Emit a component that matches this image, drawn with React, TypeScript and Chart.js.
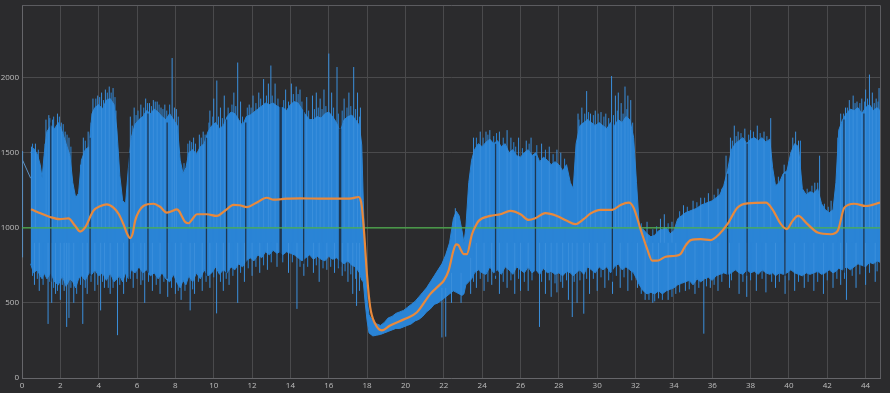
import React, { useEffect, useRef } from "react";
import { Chart, registerables } from "chart.js";

Chart.register(...registerables);

// ---- axis settings ----
const X_MAX = 44.75;
const Y_MAX = 2483;
const xTickValues = [0, 2, 4, 6, 8, 10, 12, 14, 16, 18, 20, 22, 24, 26, 28, 30, 32, 34, 36, 38, 40, 42, 44];
const yTickValues = [0, 500, 1000, 1500, 2000];
const REFERENCE_LEVEL = 1000;

// ---- raw signal: dense band (core envelope) ----
const bandX = [
  0.45, 0.6, 0.8, 0.95, 1.05, 1.15, 1.3, 1.5, 1.7, 1.9, 2.1, 2.3, 2.5, 2.65, 2.8, 2.95, 3.1, 3.3, 3.5, 3.65,
  3.8, 4.0, 4.2, 4.4, 4.6, 4.8, 4.95, 5.1, 5.25, 5.4, 5.55, 5.7, 5.9, 6.1, 6.3, 6.5, 6.7, 6.9, 7.1, 7.3,
  7.5, 7.7, 7.9, 8.1, 8.25, 8.4, 8.55, 8.7, 8.9, 9.1, 9.3, 9.5, 9.7, 9.9, 10.1, 10.3, 10.5, 10.7, 10.9, 11.1,
  11.3, 11.5, 11.7, 11.9, 12.1, 12.3, 12.5, 12.7, 12.9, 13.1, 13.3, 13.45, 13.6, 13.8, 14.0, 14.2, 14.4, 14.6, 14.8, 15.0,
  15.2, 15.4, 15.6, 15.8, 16.0, 16.2, 16.4, 16.6, 16.8, 17.0, 17.2, 17.4, 17.6, 17.72, 17.8, 17.9, 18.0, 18.1, 18.3, 18.5,
  18.7, 18.9, 19.1, 19.3, 19.5, 19.7, 19.9, 20.1, 20.3, 20.5, 20.7, 20.9, 21.1, 21.3, 21.5, 21.7, 21.9, 22.1, 22.3, 22.5,
  22.65, 22.8, 22.95, 23.05, 23.15, 23.3, 23.45, 23.6, 23.8, 24.0, 24.2, 24.4, 24.6, 24.8, 25.0, 25.2, 25.4, 25.6, 25.8, 26.0,
  26.2, 26.4, 26.6, 26.8, 27.0, 27.2, 27.4, 27.6, 27.8, 28.0, 28.2, 28.4, 28.6, 28.75, 28.9, 29.1, 29.3, 29.5, 29.7, 29.9,
  30.1, 30.3, 30.5, 30.7, 30.9, 31.1, 31.3, 31.5, 31.7, 31.9, 32.05, 32.2, 32.4, 32.6, 32.8, 33.0, 33.2, 33.4, 33.6, 33.8,
  34.0, 34.2, 34.4, 34.6, 34.8, 35.0, 35.2, 35.4, 35.6, 35.8, 36.0, 36.2, 36.4, 36.6, 36.8, 37.0, 37.2, 37.4, 37.6, 37.8,
  38.0, 38.2, 38.4, 38.6, 38.8, 39.0, 39.15, 39.3, 39.5, 39.7, 39.9, 40.1, 40.3, 40.5, 40.7, 40.9, 41.1, 41.3, 41.5, 41.7,
  41.9, 42.1, 42.3, 42.45, 42.6, 42.8, 43.0, 43.2, 43.4, 43.6, 43.8, 44.0, 44.2, 44.4, 44.6, 44.75,
];
const bandTop = [
  1500, 1530, 1490, 1420, 1330, 1480, 1640, 1680, 1660, 1700, 1640, 1560, 1480, 1300, 1200, 1230, 1450, 1520, 1540, 1760,
  1800, 1820, 1790, 1850, 1860, 1820, 1650, 1350, 1180, 1160, 1400, 1600, 1690, 1720, 1740, 1780, 1760, 1790, 1770, 1740,
  1720, 1760, 1720, 1680, 1450, 1360, 1400, 1500, 1520, 1490, 1540, 1560, 1640, 1680, 1700, 1660, 1680, 1740, 1770, 1760,
  1720, 1680, 1740, 1750, 1770, 1790, 1810, 1830, 1820, 1830, 1810, 1800, 1800, 1780, 1820, 1840, 1830, 1790, 1750, 1720,
  1720, 1740, 1730, 1760, 1770, 1740, 1700, 1640, 1720, 1740, 1750, 1720, 1680, 1550, 1180, 800, 520, 420, 380, 360,
  350, 370, 400, 410, 430, 440, 450, 470, 490, 510, 540, 570, 600, 640, 680, 720, 760, 820, 900, 1060,
  1110, 1080, 980, 900, 1000, 1300, 1450, 1520, 1560, 1540, 1570, 1590, 1560, 1580, 1540, 1560, 1500, 1520, 1480, 1470,
  1500, 1520, 1480, 1500, 1440, 1470, 1450, 1420, 1440, 1420, 1380, 1420, 1300, 1260, 1560, 1680, 1700, 1720, 1700, 1680,
  1700, 1680, 1660, 1700, 1680, 1720, 1700, 1740, 1720, 1600, 1300, 1000, 990, 960, 940, 950, 980, 990, 1000, 960,
  980, 1060, 1080, 1100, 1110, 1120, 1130, 1150, 1160, 1170, 1180, 1200, 1220, 1280, 1380, 1520, 1560, 1580, 1600, 1560,
  1590, 1600, 1580, 1600, 1570, 1590, 1400, 1280, 1300, 1360, 1380, 1500, 1560, 1540, 1260, 1220, 1240, 1230, 1260, 1160,
  1120, 1100, 1120, 1300, 1650, 1720, 1760, 1790, 1780, 1800, 1760, 1800, 1820, 1780, 1800, 1780,
];
const bandBottom = [
  760, 700, 720, 680, 660, 700, 660, 700, 640, 620, 680, 610, 660, 640, 600, 660, 680, 650, 700, 690,
  720, 680, 700, 650, 700, 640, 660, 680, 640, 700, 660, 720, 700, 740, 700, 720, 680, 700, 660, 700,
  660, 640, 690, 630, 600, 650, 620, 680, 640, 700, 660, 720, 680, 700, 740, 690, 720, 700, 740, 720,
  760, 740, 780, 800, 780, 820, 800, 840, 820, 850, 830, 840, 820, 840, 830, 820, 800, 780, 800, 820,
  790, 810, 790, 780, 810, 790, 800, 780, 760, 780, 750, 740, 700, 650, 640, 500, 380, 300, 280, 285,
  290, 300, 310, 320, 330, 330, 340, 350, 360, 380, 390, 410, 440, 460, 490, 500, 520, 540, 560, 580,
  570, 560, 550, 560, 620, 640, 660, 700, 720, 700, 690, 740, 700, 720, 690, 740, 720, 690, 740, 720,
  700, 740, 700, 720, 690, 730, 700, 710, 690, 700, 680, 710, 700, 680, 700, 720, 690, 740, 720, 700,
  740, 720, 740, 700, 740, 760, 720, 740, 720, 700, 660, 620, 580, 560, 570, 560, 580, 560, 580, 590,
  600, 620, 630, 640, 650, 620, 660, 640, 660, 670, 650, 680, 690, 700, 690, 700, 720, 700, 690, 720,
  700, 710, 690, 720, 700, 690, 700, 680, 700, 690, 700, 720, 700, 690, 680, 700, 690, 700, 710, 690,
  700, 720, 700, 710, 730, 720, 740, 720, 740, 760, 750, 740, 770, 760, 780, 770,
];

// ---- raw signal: isolated upward spikes ----
const upX = [
  0.5, 0.7, 1.25, 1.4, 1.6, 1.85, 2.05, 2.25, 2.45, 3.2, 3.45, 3.7, 3.95, 4.15, 4.35, 4.55, 4.75, 4.9, 5.65, 5.85,
  6.2, 6.45, 6.65, 6.85, 7.05, 7.25, 7.45, 7.83, 7.95, 8.05, 8.75, 8.95, 9.25, 9.45, 9.8, 10.0, 10.16, 10.35, 10.55, 11.05,
  11.25, 11.4, 11.85, 12.05, 12.35, 12.6, 12.85, 12.98, 13.2, 13.75, 14.05, 14.3, 14.5, 14.85, 15.15, 15.35, 15.55, 15.75, 16.0, 16.15,
  16.43, 16.8, 17.05, 17.3, 17.5, 17.65, 22.6, 23.55, 23.9, 24.2, 24.4, 24.9, 25.3, 25.5, 25.9, 26.3, 26.55, 27.1, 27.5, 27.9,
  28.1, 29.0, 29.2, 29.45, 29.65, 29.9, 30.2, 30.45, 30.75, 30.95, 31.1, 31.25, 31.45, 31.6, 31.75, 32.6, 33.3, 33.5, 33.9, 34.5,
  35.0, 35.4, 35.8, 36.3, 36.72, 36.95, 37.15, 37.35, 37.7, 38.0, 38.35, 38.7, 39.05, 39.75, 40.2, 40.35, 40.5, 41.35, 41.6, 42.2,
  42.7, 42.95, 43.15, 43.35, 43.55, 43.8, 44.0, 44.2, 44.35, 44.55, 44.7,
];
const upPeak = [
  1540, 1560, 1720, 1750, 1720, 1760, 1700, 1640, 1600, 1600, 1640, 1860, 1880, 1900, 1920, 1940, 1930, 1780, 1740, 1800,
  1820, 1860, 1830, 1850, 1840, 1800, 1820, 2130, 1800, 1790, 1580, 1600, 1620, 1640, 1780, 1860, 1980, 1800, 1880, 1900,
  2100, 1840, 1820, 1880, 1900, 1990, 1960, 2080, 1960, 1920, 1960, 1940, 1920, 1870, 1880, 1900, 1860, 1920, 2160, 1900,
  2070, 1860, 1900, 2070, 1900, 1800, 1130, 1600, 1640, 1640, 1650, 1640, 1650, 1600, 1600, 1580, 1600, 1560, 1540, 1520,
  1500, 1760, 1800, 1910, 1760, 1780, 1770, 1760, 2010, 1880, 1900, 1830, 1940, 1880, 1850, 1040, 1060, 1090, 1040, 1150,
  1180, 1200, 1230, 1260, 1480, 1600, 1680, 1640, 1660, 1650, 1680, 1640, 1730, 1420, 1600, 1640, 1580, 1300, 1480, 1180,
  1760, 1800, 1850, 1880, 1840, 1860, 1920, 2020, 1900, 1860, 1930,
];
const upBase = [
  1000, 1000, 1000, 1000, 1000, 1000, 1000, 1000, 1000, 1000, 1000, 1000, 1000, 1000, 1000, 1000, 1000, 1000, 1000, 1000,
  1000, 1000, 1000, 1000, 1000, 1000, 1000, 1000, 1000, 1000, 1000, 1000, 1000, 1000, 1000, 1000, 1000, 1000, 1000, 1000,
  1000, 1000, 1000, 1000, 1000, 1000, 1000, 1000, 1000, 1000, 1000, 1000, 1000, 1000, 1000, 1000, 1000, 1000, 1000, 1000,
  1000, 1000, 1000, 1000, 1000, 1000, 900, 1000, 1000, 1000, 1000, 1000, 1000, 1000, 1000, 1000, 1000, 1000, 1000, 1000,
  1000, 1000, 1000, 1000, 1000, 1000, 1000, 1000, 1000, 1000, 1000, 1000, 1000, 1000, 1000, 900, 900, 900, 900, 1000,
  1000, 1000, 1000, 1000, 1000, 1000, 1000, 1000, 1000, 1000, 1000, 1000, 1000, 1000, 1000, 1000, 1000, 1000, 1000, 1000,
  1000, 1000, 1000, 1000, 1000, 1000, 1000, 1000, 1000, 1000, 1000,
];

// ---- raw signal: isolated downward spikes ----
const downX = [
  0.65, 0.9, 1.36, 1.55, 1.75, 2.0, 2.2, 2.33, 2.45, 2.7, 3.17, 3.4, 3.8, 4.1, 4.3, 4.6, 4.98, 5.3, 5.8, 6.2,
  6.4, 6.8, 7.2, 7.6, 8.0, 8.3, 8.77, 9.0, 9.4, 9.8, 10.15, 10.5, 10.8, 11.25, 11.6, 12.0, 12.4, 12.8, 13.3, 13.9,
  14.34, 14.7, 15.2, 15.5, 15.9, 16.3, 16.7, 17.0, 17.25, 17.45, 17.6, 21.9, 22.1, 22.4, 22.9, 23.4, 23.7, 24.1, 24.5, 24.9,
  25.3, 25.7, 26.0, 26.4, 26.99, 27.3, 27.6, 27.9, 28.2, 28.5, 28.7, 28.95, 29.3, 29.6, 30.0, 30.4, 30.8, 31.2, 31.6, 32.1,
  32.5, 32.9, 33.2, 33.7, 34.1, 34.6, 35.1, 35.56, 35.9, 36.3, 36.9, 37.4, 37.8, 38.3, 38.8, 39.3, 39.8, 40.3, 40.8, 41.3,
  41.8, 42.3, 42.7, 43.0, 43.5, 44.0, 44.5,
];
const downTrough = [
  620, 580, 360, 500, 560, 520, 580, 340, 400, 500, 360, 560, 580, 450, 600, 560, 285, 560, 600, 620,
  500, 580, 560, 540, 560, 520, 450, 560, 580, 600, 430, 580, 620, 500, 640, 680, 700, 720, 740, 700,
  460, 680, 700, 640, 720, 700, 680, 640, 560, 480, 580, 270, 275, 500, 500, 560, 600, 580, 620, 560,
  600, 560, 580, 580, 340, 560, 540, 570, 600, 520, 406, 500, 428, 560, 580, 600, 560, 600, 580, 600,
  520, 500, 530, 520, 560, 580, 560, 295, 600, 580, 600, 560, 540, 580, 570, 600, 560, 580, 600, 580,
  560, 600, 620, 520, 600, 620, 640,
];
const downBase = [
  900, 900, 900, 900, 900, 900, 900, 900, 900, 900, 900, 900, 900, 900, 900, 900, 900, 900, 900, 900,
  900, 900, 900, 900, 900, 900, 900, 900, 900, 900, 900, 900, 900, 900, 900, 900, 900, 900, 900, 900,
  900, 900, 900, 900, 900, 900, 900, 900, 900, 900, 900, 600, 600, 700, 700, 800, 900, 900, 900, 900,
  900, 900, 900, 900, 900, 900, 900, 900, 900, 900, 900, 900, 900, 900, 900, 900, 900, 900, 900, 900,
  900, 900, 900, 900, 900, 900, 900, 900, 900, 900, 900, 900, 900, 900, 900, 900, 900, 900, 900, 900,
  900, 900, 900, 900, 900, 900, 900,
];

// ---- raw signal: short fringe excursions along the band edges ----
const fringeUpX = [
  0.55, 0.85, 1.2, 1.45, 1.65, 1.95, 2.15, 2.35, 2.55, 3.05, 3.3, 3.6, 3.85, 4.05, 4.25, 4.45, 4.65, 4.85, 5.75, 5.95,
  6.05, 6.35, 6.55, 6.75, 6.95, 7.15, 7.35, 7.55, 7.7, 8.15, 8.45, 8.65, 8.85, 9.05, 9.35, 9.55, 9.75, 9.95, 10.25, 10.45,
  10.75, 10.95, 11.15, 11.5, 11.75, 11.95, 12.2, 12.45, 12.75, 13.05, 13.35, 13.65, 13.9, 14.15, 14.4, 14.6, 14.95, 15.25, 15.45, 15.65,
  15.85, 16.25, 16.5, 16.7, 16.95, 17.15, 17.4, 17.6, 23.7, 24.05, 24.3, 24.6, 24.75, 25.1, 25.65, 25.75, 26.1, 26.45, 26.85, 27.3,
  27.7, 28.3, 29.05, 29.35, 29.55, 29.8, 30.05, 30.35, 30.6, 30.85, 31.05, 31.35, 31.55, 31.85, 32.3, 32.9, 33.1, 33.7, 34.3, 34.7,
  35.2, 35.6, 36.1, 36.5, 37.05, 37.25, 37.5, 37.9, 38.15, 38.5, 38.85, 39.45, 40.0, 40.6, 40.95, 41.2, 41.5, 41.85, 42.05, 42.55,
  42.85, 43.05, 43.45, 43.7, 43.95, 44.1, 44.45, 44.65,
];
const fringeUpPeak = [
  1560, 1520, 1560, 1730, 1740, 1740, 1690, 1620, 1540, 1420, 1580, 1700, 1860, 1870, 1850, 1900, 1900, 1870, 1680, 1750,
  1780, 1800, 1830, 1810, 1840, 1820, 1790, 1780, 1820, 1740, 1430, 1560, 1570, 1560, 1600, 1620, 1700, 1740, 1740, 1730,
  1800, 1820, 1810, 1740, 1800, 1800, 1830, 1860, 1880, 1880, 1860, 1850, 1840, 1890, 1890, 1840, 1780, 1790, 1800, 1790,
  1810, 1800, 1760, 1780, 1800, 1810, 1790, 1740, 1600, 1600, 1620, 1610, 1630, 1600, 1570, 1540, 1530, 1560, 1550, 1520,
  1490, 1460, 1720, 1760, 1770, 1750, 1760, 1740, 1730, 1750, 1780, 1760, 1790, 1700, 1030, 990, 1010, 1030, 1110, 1140,
  1170, 1200, 1220, 1260, 1580, 1610, 1630, 1620, 1640, 1630, 1610, 1340, 1440, 1580, 1260, 1280, 1300, 1160, 1140, 1600,
  1760, 1800, 1830, 1830, 1840, 1860, 1830, 1840,
];
const fringeDownX = [
  0.55, 0.8, 1.1, 1.45, 1.65, 1.85, 2.1, 2.55, 2.85, 3.05, 3.3, 3.6, 3.95, 4.2, 4.5, 4.75, 5.1, 5.45, 5.65, 6.0,
  6.3, 6.6, 7.0, 7.4, 7.8, 8.15, 8.5, 8.9, 9.2, 9.6, 10.0, 10.35, 10.65, 11.0, 11.4, 11.8, 12.2, 12.6, 13.0, 13.6,
  14.1, 14.5, 14.9, 15.35, 15.7, 16.1, 16.5, 16.85, 17.15, 17.4, 23.55, 23.9, 24.3, 24.7, 25.1, 25.5, 25.9, 26.2, 26.6, 27.1,
  27.5, 27.8, 28.1, 28.4, 28.8, 29.1, 29.45, 29.8, 30.2, 30.6, 31.0, 31.4, 31.8, 32.3, 32.7, 33.0, 33.4, 33.9, 34.3, 34.8,
  35.3, 35.7, 36.1, 36.5, 37.0, 37.6, 38.0, 38.6, 39.1, 39.5, 40.0, 40.5, 41.0, 41.5, 42.0, 42.5, 42.9, 43.3, 43.7, 44.2,
  44.6,
];
const fringeDownTrough = [
  680, 660, 620, 640, 600, 580, 620, 600, 560, 620, 600, 640, 620, 640, 600, 600, 620, 640, 660, 660,
  650, 640, 620, 640, 600, 580, 580, 590, 640, 640, 670, 640, 660, 680, 700, 730, 740, 750, 770, 770,
  770, 740, 740, 750, 730, 740, 730, 710, 690, 660, 640, 660, 640, 660, 640, 650, 660, 640, 650, 640,
  650, 630, 640, 650, 640, 650, 660, 660, 670, 650, 680, 670, 650, 560, 520, 510, 520, 540, 570, 590,
  600, 610, 620, 640, 650, 640, 650, 660, 640, 640, 650, 640, 640, 640, 650, 660, 660, 680, 690, 700,
  710,
];
const FRINGE_BASE = 900;

// ---- dropouts (dark vertical gaps in the raw signal) ----
const gapX = [1.5, 3.55, 5.59, 6.57, 7.57, 9.62, 10.67, 11.67, 13.46, 13.52, 14.69, 16.56, 16.62, 24.7, 26.78, 30.79, 36.8, 37.82, 39.79, 42.87, 43.91];
const gapLow = [640, 680, 640, 700, 660, 680, 700, 760, 800, 800, 760, 740, 740, 680, 680, 640, 680, 680, 680, 700, 720];
const gapHigh = [1700, 1600, 1500, 1760, 1700, 1600, 1720, 1700, 1820, 1820, 1780, 1660, 1660, 1560, 1480, 1700, 1360, 1560, 1360, 1720, 1760];

// ---- lead-in of the raw signal ----
const leadX = [0.03, 0.03, 0.03, 0.45];
const leadY = [803, 1510, 1450, 1330];

// ---- smoothed signal ----
const smoothX = [
  0.47, 1.0, 1.46, 1.98, 2.42, 2.77, 3.03, 3.29, 3.72, 4.1, 4.42, 4.77, 5.05, 5.29, 5.5, 5.64, 5.77, 5.9, 6.1, 6.33,
  6.86, 7.2, 7.55, 7.8, 8.07, 8.2, 8.33, 8.5, 8.68, 8.9, 9.12, 9.64, 10.16, 10.6, 11.03, 11.35, 11.73, 12.2, 12.77, 13.12,
  13.5, 13.81, 14.51, 15.5, 16.5, 17.2, 17.56, 17.65, 17.73, 17.85, 17.99, 18.16, 18.42, 18.77, 19.2, 19.99, 20.6, 21.3, 21.7, 22.0,
  22.25, 22.5, 22.64, 22.77, 22.9, 23.03, 23.2, 23.47, 23.65, 23.82, 24.42, 24.95, 25.47, 26.0, 26.42, 26.77, 27.29, 27.9, 28.42, 28.86,
  29.29, 29.64, 30.17, 30.78, 31.22, 31.65, 31.9, 32.26, 32.61, 32.87, 33.13, 33.57, 34.09, 34.35, 34.6, 34.88, 35.4, 35.92, 36.36, 36.79,
  37.31, 37.84, 38.8, 39.14, 39.58, 39.89, 40.19, 40.48, 40.97, 41.5, 42.19, 42.54, 42.89, 43.41, 44.02, 44.75,
];
const smoothY = [
  1123, 1095, 1072, 1057, 1063, 1013, 975, 1002, 1112, 1145, 1156, 1134, 1090, 1024, 955, 931, 960, 1046, 1110, 1145,
  1160, 1140, 1101, 1110, 1123, 1110, 1079, 1040, 1030, 1060, 1090, 1090, 1079, 1115, 1152, 1150, 1138, 1165, 1200, 1187,
  1190, 1194, 1196, 1194, 1194, 1196, 1205, 1190, 1134, 957, 692, 472, 361, 317, 350, 394, 438, 560, 610, 648,
  715, 847, 890, 884, 850, 825, 825, 957, 1010, 1046, 1079, 1090, 1112, 1090, 1052, 1063, 1097, 1079, 1046, 1024,
  1057, 1094, 1119, 1119, 1152, 1167, 1134, 991, 858, 781, 781, 807, 814, 825, 880, 918, 924, 918, 957, 1024,
  1134, 1163, 1167, 1123, 1024, 991, 1046, 1079, 1024, 968, 957, 979, 1134, 1160, 1145, 1167,
];

const BG = "#2b2b2d";
const BLUE = "#2a84d6";
const SPIKE_BLUE = "#3b8fdc";
const ORANGE = "#e8893c";
const GREEN = "#4cb04a";
const GRID = "#4a4a4c";
const FRAME = "#5c5c60";
const LABEL = "#bfbfbf";
const FONT_FAMILY = "'Open Sans', 'Noto Sans', sans-serif";

const pts = (xs: number[], ys: number[]) => xs.map((x, i) => ({ x, y: ys[i] }));
const segs = (xs: number[], a: number[], b: number[]) =>
  xs.flatMap((x, i) => [
    { x, y: a[i] },
    { x, y: b[i] },
    { x, y: null as any },
  ]);

// draws the top and right edges of the plot frame
const framePlugin = {
  id: "frame",
  beforeDatasetsDraw(chart: any) {
    const { ctx, chartArea } = chart;
    ctx.save();
    ctx.strokeStyle = FRAME;
    ctx.lineWidth = 1;
    ctx.beginPath();
    ctx.moveTo(chartArea.left, Math.round(chartArea.top) + 0.5);
    ctx.lineTo(Math.round(chartArea.right) + 0.5, Math.round(chartArea.top) + 0.5);
    ctx.lineTo(Math.round(chartArea.right) + 0.5, chartArea.bottom);
    ctx.stroke();
    ctx.restore();
  },
};

const spikeSet = (label: string, data: any[], color: string, order: number) => ({
  label,
  data,
  borderColor: color,
  borderWidth: 1,
  pointRadius: 0,
  spanGaps: false,
  fill: false,
  order,
});

export default function App() {
  const ref = useRef<HTMLCanvasElement | null>(null);

  useEffect(() => {
    if (!ref.current) return;
    const chart = new Chart(ref.current, {
      type: "line",
      plugins: [framePlugin],
      data: {
        datasets: [
          {
            label: "band-top",
            data: pts(bandX, bandTop),
            borderColor: BLUE,
            borderWidth: 1,
            backgroundColor: BLUE,
            pointRadius: 0,
            fill: "+1",
            tension: 0,
            order: 10,
          },
          {
            label: "band-bottom",
            data: pts(bandX, bandBottom),
            borderColor: BLUE,
            borderWidth: 1,
            pointRadius: 0,
            fill: false,
            tension: 0,
            order: 10,
          },
          spikeSet("fringe-up", segs(fringeUpX, fringeUpX.map(() => FRINGE_BASE), fringeUpPeak), BLUE, 9),
          spikeSet("fringe-down", segs(fringeDownX, fringeDownTrough, fringeDownX.map(() => FRINGE_BASE)), BLUE, 9),
          spikeSet("up", segs(upX, upBase, upPeak), SPIKE_BLUE, 9),
          spikeSet("down", segs(downX, downTrough, downBase), SPIKE_BLUE, 9),
          {
            label: "lead",
            data: pts(leadX, leadY),
            borderColor: "#5a8fc0",
            borderWidth: 1,
            pointRadius: 0,
            fill: false,
            tension: 0,
            order: 9,
          },
          {
            label: "gaps",
            data: segs(gapX, gapLow, gapHigh),
            borderColor: "rgba(28,40,56,0.85)",
            borderWidth: 1.3,
            pointRadius: 0,
            spanGaps: false,
            fill: false,
            order: 8,
          },
          {
            label: "level",
            data: [
              { x: 0, y: REFERENCE_LEVEL },
              { x: X_MAX, y: REFERENCE_LEVEL },
            ],
            borderColor: GREEN,
            borderWidth: 1.3,
            pointRadius: 0,
            fill: false,
            order: 2,
          },
          {
            label: "smooth",
            data: pts(smoothX, smoothY),
            borderColor: ORANGE,
            borderWidth: 2.2,
            pointRadius: 0,
            fill: false,
            cubicInterpolationMode: "monotone",
            order: 1,
          },
        ],
      },
      options: {
        animation: false,
        responsive: true,
        maintainAspectRatio: false,
        events: [],
        layout: { padding: { top: 3, right: 10, left: 0, bottom: 0 } },
        plugins: {
          legend: { display: false },
          tooltip: { enabled: false },
        },
        scales: {
          x: {
            type: "linear",
            min: 0,
            max: X_MAX,
            offset: false,
            afterBuildTicks: (s: any) => {
              s.ticks = xTickValues.map((v) => ({ value: v }));
            },
            afterFit: (s: any) => {
              s.height = 15;
            },
            grid: { color: GRID, lineWidth: 1, drawTicks: false },
            border: { display: true, color: "#66666a" },
            ticks: {
              autoSkip: false,
              maxRotation: 0,
              padding: 3,
              color: LABEL,
              font: { family: FONT_FAMILY, size: 8 },
              callback: (v: any) => String(v),
            },
          },
          y: {
            type: "linear",
            min: 0,
            max: Y_MAX,
            afterBuildTicks: (s: any) => {
              s.ticks = yTickValues.map((v) => ({ value: v }));
            },
            afterFit: (s: any) => {
              s.width = 22;
            },
            grid: { color: GRID, lineWidth: 1, drawTicks: false },
            border: { display: true, color: "#66666a" },
            ticks: {
              autoSkip: false,
              padding: 3,
              color: LABEL,
              font: { family: FONT_FAMILY, size: 8, lineHeight: 0.5 },
              callback: (v: any) => String(v),
            },
          },
        },
      },
    });
    return () => chart.destroy();
  }, []);

  return (
    <div
      style={{
        position: "absolute",
        left: 0,
        top: 0,
        width: 890,
        height: 393,
        background: BG,
      }}
    >
      <canvas ref={ref} />
    </div>
  );
}
